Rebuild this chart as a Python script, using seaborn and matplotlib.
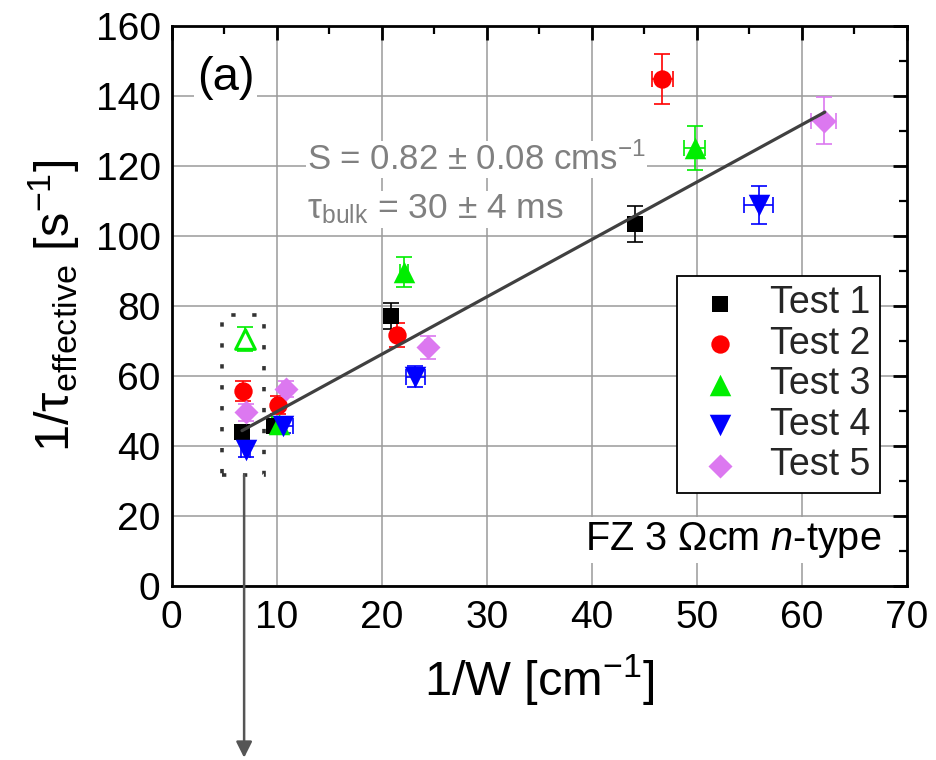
import matplotlib
matplotlib.use("Agg")
import matplotlib.pyplot as plt
import seaborn as sns
import numpy as np
import pandas as pd
from matplotlib.patches import Rectangle

# ---------------- data ----------------
tests = ["Test 1", "Test 2", "Test 3", "Test 4", "Test 5"]

t1_x = [6.7, 9.7, 20.9, 44.1]
t1_y = [44.0, 45.6, 77.1, 103.3]
t1_xerr = [0.3, 0.3, 0.3, 0.3]
t1_yerr = [1.5, 1.5, 3.8, 5.1]

t2_x = [6.8, 10.15, 21.5, 46.7]
t2_y = [55.7, 51.6, 71.6, 144.7]
t2_xerr = [0.3, 0.3, 0.3, 1.0]
t2_yerr = [2.8, 2.5, 3.5, 7.2]

t3_x = [10.2, 22.1, 49.8]
t3_y = [46.2, 89.7, 125.0]
t3_xerr = [0.6, 0.4, 1.0]
t3_yerr = [2.0, 4.3, 6.2]

t3_out_x = [7.0]
t3_out_y = [70.5]
t3_out_yerr = [3.4]

t4_x = [7.05, 10.6, 23.2, 55.9]
t4_y = [38.8, 45.6, 59.7, 108.8]
t4_xerr = [0.4, 1.0, 0.9, 1.4]
t4_yerr = [2.0, 2.0, 3.0, 5.4]

t5_x = [7.1, 10.85, 24.4, 62.1]
t5_y = [49.5, 56.1, 68.1, 132.8]
t5_xerr = [0.3, 0.3, 0.3, 1.2]
t5_yerr = [2.3, 2.3, 3.2, 6.7]

fit_x = [6.7, 62.2]
fit_y = [44.3, 135.3]

x_ticks = [0, 10, 20, 30, 40, 50, 60, 70]
y_ticks = [0, 20, 40, 60, 80, 100, 120, 140, 160]

# ---------------- style ----------------
sns.set_theme(style="white")
plt.rcParams["font.family"] = ["Liberation Sans", "DejaVu Sans"]
plt.rcParams["mathtext.fontset"] = "custom"
plt.rcParams["mathtext.rm"] = "Liberation Sans"
plt.rcParams["mathtext.it"] = "Liberation Sans:italic"
plt.rcParams["mathtext.bf"] = "Liberation Sans:bold"

colors = {"Test 1": "#000000", "Test 2": "#ff0000", "Test 3": "#00ee00",
          "Test 4": "#0000ff", "Test 5": "#dc78f0"}
markers = {"Test 1": "s", "Test 2": "o", "Test 3": "^", "Test 4": "v", "Test 5": "D"}
sizes = {"Test 1": 135, "Test 2": 175, "Test 3": 240, "Test 4": 240, "Test 5": 150}

series = {
    "Test 1": (t1_x, t1_y, t1_xerr, t1_yerr),
    "Test 2": (t2_x, t2_y, t2_xerr, t2_yerr),
    "Test 3": (t3_x, t3_y, t3_xerr, t3_yerr),
    "Test 4": (t4_x, t4_y, t4_xerr, t4_yerr),
    "Test 5": (t5_x, t5_y, t5_xerr, t5_yerr),
}

fig = plt.figure(figsize=(9.36, 7.6), dpi=100)
ax = fig.add_axes([0.1834, 0.2293, 0.7853, 0.7369])

for name in tests:
    xs, ys, xe, ye = series[name]
    df = pd.DataFrame({"x": xs, "y": ys})
    ax.errorbar(xs, ys, xerr=xe, yerr=ye, fmt="none", ecolor=colors[name],
                elinewidth=1.2, capsize=5.5, capthick=1.2, zorder=3)
    sns.scatterplot(data=df, x="x", y="y", ax=ax, color=colors[name],
                    marker=markers[name], s=sizes[name], linewidth=0,
                    label=name, zorder=4)

# hollow outlier of Test 3
ax.errorbar(t3_out_x, t3_out_y, yerr=t3_out_yerr, fmt="none", ecolor=colors["Test 3"],
            elinewidth=1.2, capsize=5.5, capthick=1.2, zorder=3)
ax.scatter(t3_out_x, t3_out_y, marker="^", s=200, facecolors="white",
           edgecolors=colors["Test 3"], linewidths=2.2, zorder=4)

# fit line
sns.lineplot(x=fit_x, y=fit_y, ax=ax, color="#404040", linewidth=2.3, zorder=5)

# dotted selection box
ax.add_patch(Rectangle((4.8, 31.6), 4.0, 45.7, fill=False, edgecolor="#333333",
                       linewidth=2.6, linestyle=(0, (1.2, 4.6)), zorder=2))
# arrow from box downwards off the axes
ax.annotate("", xy=(6.9, 0.003), xycoords=("data", "figure fraction"),
            xytext=(6.9, 31.6), textcoords="data",
            arrowprops=dict(arrowstyle="-|>", color="#555555", lw=1.8,
                            mutation_scale=24, shrinkA=0, shrinkB=0),
            annotation_clip=False, zorder=6)

# axes formatting
ax.set_xlim(0, 70)
ax.set_ylim(0, 160)
ax.set_xticks(x_ticks)
ax.set_yticks(y_ticks)
ax.set_xticks(np.arange(5, 70, 10), minor=True)
ax.set_yticks(np.arange(10, 160, 20), minor=True)
ax.grid(True, which="major", color="#9a9a9a", linewidth=1.1)
ax.set_axisbelow(True)
for sp in ax.spines.values():
    sp.set_linewidth(2.0)
    sp.set_color("black")
ax.tick_params(which="both", direction="in", top=True, right=True,
               colors="black", labelsize=28)
ax.tick_params(which="major", length=10, width=2.0)
ax.tick_params(which="minor", length=6, width=1.6)
ax.tick_params(axis="y", which="major", pad=8)
ax.tick_params(axis="x", which="major", pad=10)

ax.set_xlabel("1/W [cm$^{-1}$]", fontsize=35, labelpad=12, color="black")
ax.set_ylabel("1/τ$_{\\rm effective}$ [s$^{-1}$]", fontsize=35, labelpad=10, color="black")

# texts
ax.text(2.4, 145, "(a)", fontsize=34, ha="left", va="center", color="black",
        bbox=dict(facecolor="white", edgecolor="none", pad=2), zorder=6)
ax.text(12.9, 121.8, "S = 0.82 ± 0.08 cms$^{-1}$", fontsize=25, color="#808080",
        ha="left", va="center", bbox=dict(facecolor="white", edgecolor="none", pad=1), zorder=2.5)
ax.text(12.9, 107.5, "τ$_{\\rm bulk}$ = 30 ± 4 ms", fontsize=25.5, color="#808080",
        ha="left", va="center", bbox=dict(facecolor="white", edgecolor="none", pad=1), zorder=2.5)
ax.text(67.6, 13.0, "FZ 3 Ωcm $\\mathit{n}$-type", fontsize=28.5, color="black",
        ha="right", va="center", bbox=dict(facecolor="white", edgecolor="none", pad=2), zorder=2.5)

leg = ax.legend(loc="upper right", bbox_to_anchor=(0.964, 0.553), borderaxespad=0,
                fontsize=27, frameon=True, fancybox=False, edgecolor="black",
                framealpha=1, labelspacing=0.12, handletextpad=0.45,
                borderpad=0.25, handlelength=1.8)
leg.get_frame().set_linewidth(1.3)
leg.set_zorder(7)

fig.savefig("out.png", dpi=100)
